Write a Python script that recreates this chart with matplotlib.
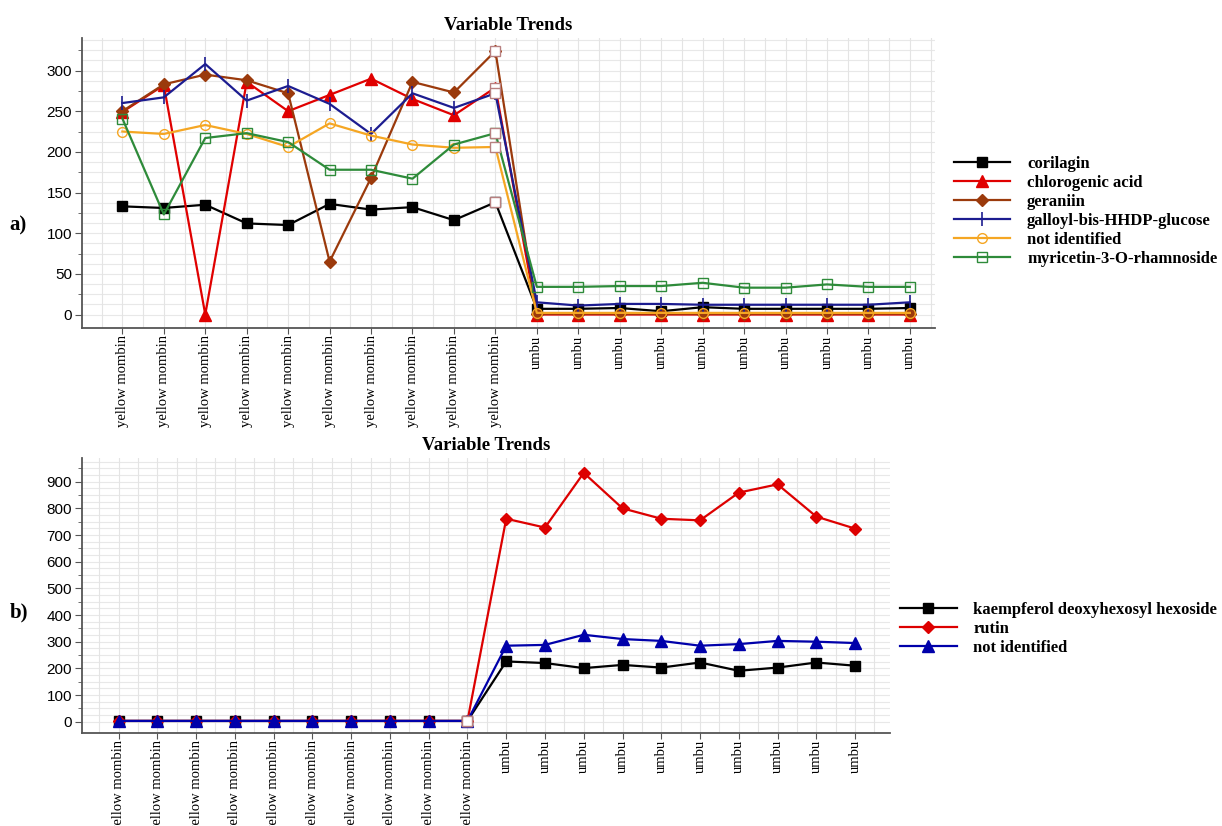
import numpy as np
import matplotlib
matplotlib.use("Agg")
import matplotlib.pyplot as plt
from matplotlib.ticker import MultipleLocator

# sample labels, shared by both panels
samples = ["yellow mombin"] * 10 + ["umbu"] * 10

# panel a) compounds
corilagin = [133, 131, 135, 112, 110, 136, 129, 132, 116, 138, 7, 7, 8, 4, 9, 7, 7, 7, 7, 8]
chlorogenic_acid = [249, 282, 0, 286, 250, 270, 290, 265, 245, 279, 0, 0, 0, 0, 0, 0, 0, 0, 0, 0]
geraniin = [250, 283, 295, 288, 272, 65, 168, 286, 273, 324, 1, 1, 1, 1, 1, 1, 1, 1, 1, 1]
galloyl = [260, 267, 308, 263, 281, 259, 222, 272, 254, 272, 15, 11, 13, 13, 12, 12, 12, 12, 12, 15]
not_identified_a = [225, 222, 233, 222, 206, 235, 220, 209, 205, 206, 2, 2, 2, 2, 2, 2, 2, 2, 2, 2]
myricetin = [241, 123, 217, 223, 212, 178, 178, 167, 209, 223, 34, 34, 35, 35, 39, 33, 33, 37, 34, 34]

# panel b) compounds
kaempferol = [3, 3, 3, 3, 3, 3, 3, 3, 3, 3, 226, 220, 201, 213, 203, 222, 191, 203, 222, 210]
rutin = [3, 3, 3, 3, 3, 3, 3, 3, 3, 3, 761, 728, 933, 800, 761, 755, 859, 890, 769, 724]
not_identified_b = [3, 3, 3, 3, 3, 3, 3, 3, 3, 3, 285, 288, 326, 310, 303, 285, 291, 303, 300, 295]

selected = 9  # highlighted sample

serif = "Liberation Serif"
sans = "Liberation Sans"

fig = plt.figure(figsize=(12.22, 8.26), dpi=100)
ax1 = fig.add_axes([0.0669, 0.6025, 0.698, 0.3515])
ax2 = fig.add_axes([0.0669, 0.113, 0.6614, 0.3326])

x = np.arange(len(samples))


def style_axes(ax, xlim, ylim, major, minor, fine):
    ax.set_xlim(*xlim)
    ax.set_ylim(*ylim)
    ax.set_xticks(x)
    ax.set_xticklabels(samples, rotation=90, family=serif, fontsize=10.5)
    ax.set_xticks(np.arange(-0.5, len(samples), 1.0), minor=True)
    ax.yaxis.set_major_locator(MultipleLocator(major))
    ax.yaxis.set_minor_locator(MultipleLocator(minor))
    for lab in ax.get_yticklabels():
        lab.set_family(sans)
        lab.set_fontsize(11)
    for s in ["top", "right"]:
        ax.spines[s].set_visible(False)
    for s in ["left", "bottom"]:
        ax.spines[s].set_color("#555555")
        ax.spines[s].set_linewidth(1.3)
    ax.tick_params(axis="y", which="major", length=5, color="#555555", pad=2)
    ax.tick_params(axis="y", which="minor", length=3, color="#555555")
    ax.tick_params(axis="x", which="major", length=4, color="#555555", pad=1)
    ax.tick_params(axis="x", which="minor", length=0)
    # light background grid
    ax.grid(True, axis="x", which="both", color="#e4e4e4", lw=0.8)
    for yv in np.arange(0, ylim[1], fine):
        ax.axhline(yv, color="#e8e8e8", lw=0.8, zorder=0)
    ax.set_axisbelow(True)


style_axes(ax1, (-0.98, 19.6), (-17, 340), 50, 25, 12.5)
style_axes(ax2, (-0.95, 19.9), (-41, 989), 100, 50, 25)

# panel a
ax1.plot(x, corilagin, color="black", lw=1.6, marker="s", ms=6.5, label="corilagin")
ax1.plot(x, chlorogenic_acid, color="#e00000", lw=1.6, marker="^", ms=8, label="chlorogenic acid")
ax1.plot(x, geraniin, color="#9b3a0c", lw=1.6, marker="D", ms=6.5, label="geraniin")
ax1.plot(x, galloyl, color="#1c1c90", lw=1.6, marker="|", ms=10, mew=1.2,
         label="galloyl-bis-HHDP-glucose")
ax1.plot(x, not_identified_a, color="#f5a623", lw=1.6, marker="o", ms=7, mfc="none",
         label="not identified")
ax1.plot(x, myricetin, color="#2e8b3a", lw=1.6, marker="s", ms=7, mfc="none",
         label="myricetin-3-O-rhamnoside")
for series in [corilagin, chlorogenic_acid, geraniin, galloyl, not_identified_a, myricetin]:
    ax1.plot(x[selected], series[selected], ls="none", marker="s", ms=7,
             mfc="white", mec="#b88080", zorder=5)

# panel b
ax2.plot(x, kaempferol, color="black", lw=1.6, marker="s", ms=6.5,
         label="kaempferol deoxyhexosyl hexoside")
ax2.plot(x, rutin, color="#dd0000", lw=1.6, marker="D", ms=6.5, label="rutin")
ax2.plot(x, not_identified_b, color="#0000aa", lw=1.6, marker="^", ms=8, label="not identified")
for series in [kaempferol, rutin, not_identified_b]:
    ax2.plot(x[selected], series[selected], ls="none", marker="s", ms=7,
             mfc="white", mec="#b88080", zorder=5)

title_font = dict(family=serif, fontsize=13.5, fontweight="bold")
ax1.set_title("Variable Trends", pad=6, **title_font)
ax2.set_title("Variable Trends", pad=6, **title_font)

legend_font = dict(family=serif, size=12, weight="bold")
ax1.legend(loc="upper left", bbox_to_anchor=(0.775, 0.819), bbox_transform=fig.transFigure,
           frameon=False, prop=legend_font, handlelength=3.4, handletextpad=1.0,
           labelspacing=0.18, borderaxespad=0)
ax2.legend(loc="upper left", bbox_to_anchor=(0.731, 0.279), bbox_transform=fig.transFigure,
           frameon=False, prop=legend_font, handlelength=3.4, handletextpad=1.0,
           labelspacing=0.18, borderaxespad=0)

fig.text(0.008, 0.727, "a)", family=serif, fontsize=15, fontweight="bold", va="center")
fig.text(0.008, 0.259, "b)", family=serif, fontsize=15, fontweight="bold", va="center")

fig.savefig("out.png", dpi=100)
